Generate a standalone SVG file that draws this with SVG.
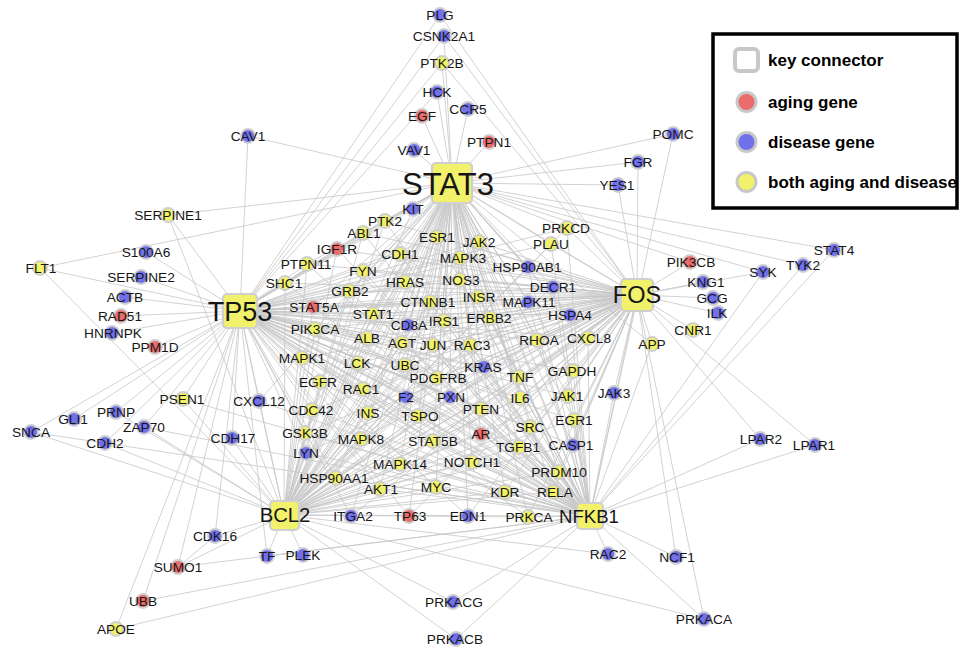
<svg xmlns="http://www.w3.org/2000/svg" width="962" height="648" viewBox="0 0 962 648">
<style>
.edges path{fill:none;stroke:#c6c6c6;stroke-width:0.8}
.node circle{stroke:#cfcfcf;stroke-width:1.8}
.y circle,.hub rect{fill:#f1f16b}
.r circle{fill:#ea6c6c}
.b circle{fill:#7171ec}
.hub rect{stroke:#cfcfcf;stroke-width:2.2}
text{font-family:"Liberation Sans",Arial,sans-serif;font-size:13.7px;fill:#161616;text-anchor:middle}
.leg text{font-weight:bold;font-size:17px;text-anchor:start;fill:#000}
.leg circle{stroke:#c8c8c8;stroke-width:3}
</style>
<rect width="962" height="648" fill="#fff"/>
<g class="edges" id="connectors">
<path d="M452 183L240 311"/><path d="M452 183L637 295"/><path d="M452 183L284 515"/><path d="M452 183L590 516"/>
<path d="M240 311L637 295"/><path d="M240 311L284 515"/><path d="M240 311L590 516"/><path d="M637 295L284 515"/><path d="M637 295L590 516"/><path d="M284 515L590 516"/>
<path d="M440 15L240 311"/><path d="M440 15L637 295"/>
<path d="M444 36L240 311"/><path d="M444 36L637 295"/><path d="M444 36L452 183"/>
<path d="M442 63L240 311"/><path d="M442 63L637 295"/><path d="M442 63L452 183"/>
<path d="M437 92L452 183"/><path d="M437 92L240 311"/>
<path d="M422 116L452 183"/><path d="M468 109L452 183"/><path d="M489 142L452 183"/><path d="M414 150L452 183"/>
<path d="M248 136L452 183"/><path d="M248 136L240 311"/>
<path d="M673 134L452 183"/><path d="M673 134L590 516"/>
<path d="M638 162L452 183"/><path d="M638 162L637 295"/>
<path d="M618 185L452 183"/><path d="M618 185L637 295"/>
<path d="M413 209L452 183"/><path d="M413 209L240 311"/><path d="M413 209L284 515"/>
<path d="M168 215L240 311"/><path d="M168 215L452 183"/><path d="M168 215L284 515"/>
<path d="M146 252L240 311"/>
<path d="M40 268L452 183"/><path d="M40 268L240 311"/><path d="M40 268L284 515"/>
<path d="M141 277L240 311"/><path d="M125 297L240 311"/><path d="M121 316L240 311"/><path d="M112 333L240 311"/><path d="M155 347L240 311"/>
<path d="M183 399L240 311"/><path d="M183 399L284 515"/><path d="M183 399L590 516"/>
<path d="M116 412L240 311"/><path d="M116 412L284 515"/>
<path d="M74 419L240 311"/>
<path d="M31 432L240 311"/><path d="M31 432L284 515"/><path d="M31 432L590 516"/>
<path d="M144 427L240 311"/><path d="M144 427L284 515"/><path d="M144 427L590 516"/>
<path d="M105 443L240 311"/><path d="M105 443L284 515"/>
<path d="M259 401L240 311"/><path d="M259 401L284 515"/><path d="M259 401L452 183"/><path d="M259 401L590 516"/>
<path d="M232 438L240 311"/><path d="M232 438L284 515"/>
<path d="M215 536L240 311"/><path d="M215 536L284 515"/><path d="M215 536L178 567"/>
<path d="M178 567L240 311"/><path d="M178 567L284 515"/><path d="M178 567L590 516"/>
<path d="M143 601L240 311"/><path d="M143 601L590 516"/>
<path d="M116 629L240 311"/><path d="M116 629L590 516"/>
<path d="M267 556L284 515"/><path d="M267 556L240 311"/><path d="M267 556L590 516"/>
<path d="M303 555L284 515"/>
<path d="M453 602L284 515"/><path d="M453 602L590 516"/>
<path d="M456 639L284 515"/><path d="M456 639L590 516"/>
<path d="M704 619L590 516"/><path d="M704 619L637 295"/><path d="M704 619L284 515"/>
<path d="M608 554L590 516"/><path d="M608 554L284 515"/>
<path d="M676 557L590 516"/><path d="M676 557L637 295"/>
<path d="M760 439L637 295"/><path d="M760 439L590 516"/>
<path d="M815 445L637 295"/><path d="M815 445L590 516"/>
<path d="M763 272L452 183"/><path d="M763 272L637 295"/><path d="M763 272L590 516"/>
<path d="M803 265L452 183"/><path d="M803 265L590 516"/>
<path d="M834 250L452 183"/><path d="M834 250L590 516"/>
<path d="M690 262L637 295"/><path d="M690 262L452 183"/>
<path d="M703 282L637 295"/><path d="M713 298L637 295"/><path d="M718 313L637 295"/><path d="M693 330L637 295"/>
<path d="M652 344L637 295"/><path d="M652 344L590 516"/><path d="M652 344L452 183"/>
<path d="M614 393L637 295"/><path d="M614 393L590 516"/>
<path id="e-PTK2" d="M452 183L385 221L240 311M637 295L385 221L284 515M385 221L590 516"/>
<path id="e-ABL1" d="M452 183L363 233L240 311M637 295L363 233L284 515M363 233L590 516"/>
<path id="e-ESR1" d="M452 183L437 237L240 311M637 295L437 237L284 515M437 237L590 516"/>
<path id="e-IGF1R" d="M452 183L337 249L240 311M637 295L337 249L284 515M337 249L590 516"/>
<path id="e-CDH1" d="M452 183L400 254L240 311M637 295L400 254L284 515M400 254L590 516"/>
<path id="e-PTPN11" d="M452 183L307 264L240 311M637 295L307 264L284 515M307 264L590 516"/>
<path id="e-FYN" d="M452 183L363 271L240 311M637 295L363 271L284 515M363 271L590 516"/>
<path id="e-SHC1" d="M452 183L285 283L240 311M637 295L285 283L284 515M285 283L590 516"/>
<path id="e-HRAS" d="M452 183L405 282L240 311M637 295L405 282L284 515M405 282L590 516"/>
<path id="e-GRB2" d="M452 183L349 291L240 311M637 295L349 291L284 515M349 291L590 516"/>
<path id="e-STAT5A" d="M452 183L313 307L240 311M637 295L313 307L284 515M313 307L590 516"/>
<path id="e-CTNNB1" d="M452 183L430 302L240 311M637 295L430 302L284 515M430 302L590 516"/>
<path id="e-STAT1" d="M452 183L373 314L240 311M637 295L373 314L284 515M373 314L590 516"/>
<path id="e-PIK3CA" d="M452 183L315 329L240 311M637 295L315 329L284 515M315 329L590 516"/>
<path id="e-CD8A" d="M452 183L408 325L240 311M637 295L408 325L284 515M408 325L590 516"/>
<path id="e-IRS1" d="M452 183L444 321L240 311M637 295L444 321L284 515M444 321L590 516"/>
<path id="e-ALB" d="M452 183L367 338L240 311M637 295L367 338L284 515M367 338L590 516"/>
<path id="e-AGT" d="M452 183L402 343L240 311M637 295L402 343L284 515M402 343L590 516"/>
<path id="e-JUN" d="M452 183L433 345L240 311M637 295L433 345L284 515M433 345L590 516"/>
<path id="e-MAPK1" d="M452 183L302 358L240 311M637 295L302 358L284 515M302 358L590 516"/>
<path id="e-LCK" d="M452 183L358 363L240 311M637 295L358 363L284 515M358 363L590 516"/>
<path id="e-UBC" d="M452 183L405 365L240 311M637 295L405 365L284 515M405 365L590 516"/>
<path id="e-PDGFRB" d="M452 183L437 378L240 311M637 295L437 378L284 515M437 378L590 516"/>
<path id="e-EGFR" d="M452 183L320 382L240 311M637 295L320 382L284 515M320 382L590 516"/>
<path id="e-RAC1" d="M452 183L363 389L240 311M637 295L363 389L284 515M363 389L590 516"/>
<path id="e-F2" d="M452 183L406 397L240 311M637 295L406 397L284 515M406 397L590 516"/>
<path id="e-PXN" d="M452 183L450 397L240 311M637 295L450 397L284 515M450 397L590 516"/>
<path id="e-CDC42" d="M452 183L312 410L240 311M637 295L312 410L284 515M312 410L590 516"/>
<path id="e-INS" d="M452 183L368 413L240 311M637 295L368 413L284 515M368 413L590 516"/>
<path id="e-TSPO" d="M452 183L418 416L240 311M637 295L418 416L284 515M418 416L590 516"/>
<path id="e-GSK3B" d="M452 183L305 433L240 311M637 295L305 433L284 515M305 433L590 516"/>
<path id="e-MAPK8" d="M452 183L361 439L240 311M637 295L361 439L284 515M361 439L590 516"/>
<path id="e-STAT5B" d="M452 183L433 441L240 311M637 295L433 441L284 515M433 441L590 516"/>
<path id="e-LYN" d="M452 183L306 453L240 311M637 295L306 453L284 515M306 453L590 516"/>
<path id="e-MAPK14" d="M452 183L400 464L240 311M637 295L400 464L284 515M400 464L590 516"/>
<path id="e-NOTCH1" d="M452 183L472 462L240 311M637 295L472 462L284 515M472 462L590 516"/>
<path id="e-HSP90AA1" d="M452 183L336 478L240 311M637 295L336 478L284 515M336 478L590 516"/>
<path id="e-AKT1" d="M452 183L380 489L240 311M637 295L380 489L284 515M380 489L590 516"/>
<path id="e-MYC" d="M452 183L436 487L240 311M637 295L436 487L284 515M436 487L590 516"/>
<path id="e-PRKCD" d="M452 183L567 228L240 311M637 295L567 228L284 515M567 228L590 516"/>
<path id="e-JAK2" d="M452 183L479 242L240 311M637 295L479 242L284 515M479 242L590 516"/>
<path id="e-PLAU" d="M452 183L551 244L240 311M637 295L551 244L284 515M551 244L590 516"/>
<path id="e-MAPK3" d="M452 183L460 258L240 311M637 295L460 258L284 515M460 258L590 516"/>
<path id="e-HSP90AB1" d="M452 183L528 267L240 311M637 295L528 267L284 515M528 267L590 516"/>
<path id="e-NOS3" d="M452 183L460 280L240 311M637 295L460 280L284 515M460 280L590 516"/>
<path id="e-DECR1" d="M452 183L553 287L240 311M637 295L553 287L284 515M553 287L590 516"/>
<path id="e-INSR" d="M452 183L478 297L240 311M637 295L478 297L284 515M478 297L590 516"/>
<path id="e-MAPK11" d="M452 183L528 302L240 311M637 295L528 302L284 515M528 302L590 516"/>
<path id="e-ERBB2" d="M452 183L490 318L240 311M637 295L490 318L284 515M490 318L590 516"/>
<path id="e-HSPA4" d="M452 183L570 315L240 311M637 295L570 315L284 515M570 315L590 516"/>
<path id="e-RAC3" d="M452 183L470 345L240 311M637 295L470 345L284 515M470 345L590 516"/>
<path id="e-RHOA" d="M452 183L537 340L240 311M637 295L537 340L284 515M537 340L590 516"/>
<path id="e-CXCL8" d="M452 183L588 338L240 311M637 295L588 338L284 515M588 338L590 516"/>
<path id="e-KRAS" d="M452 183L484 367L240 311M637 295L484 367L284 515M484 367L590 516"/>
<path id="e-TNF" d="M452 183L519 377L240 311M637 295L519 377L284 515M519 377L590 516"/>
<path id="e-GAPDH" d="M452 183L573 371L240 311M637 295L573 371L284 515M573 371L590 516"/>
<path id="e-IL6" d="M452 183L520 398L240 311M637 295L520 398L284 515M520 398L590 516"/>
<path id="e-JAK1" d="M452 183L568 396L240 311M637 295L568 396L284 515M568 396L590 516"/>
<path id="e-PTEN" d="M452 183L481 409L240 311M637 295L481 409L284 515M481 409L590 516"/>
<path id="e-EGR1" d="M452 183L574 420L240 311M637 295L574 420L284 515M574 420L590 516"/>
<path id="e-SRC" d="M452 183L530 427L240 311M637 295L530 427L284 515M530 427L590 516"/>
<path id="e-AR" d="M452 183L481 434L240 311M637 295L481 434L284 515M481 434L590 516"/>
<path id="e-TGFB1" d="M452 183L519 447L240 311M637 295L519 447L284 515M519 447L590 516"/>
<path id="e-CASP1" d="M452 183L573 445L240 311M637 295L573 445L284 515M573 445L590 516"/>
<path id="e-PRDM10" d="M452 183L559 472L240 311M637 295L559 472L284 515M559 472L590 516"/>
<path id="e-KDR" d="M452 183L505 492L240 311M637 295L505 492L284 515M505 492L590 516"/>
<path id="e-RELA" d="M452 183L553 492L240 311M637 295L553 492L284 515M553 492L590 516"/>
<path id="e-PRKCA" d="M452 183L528 517L240 311M637 295L528 517L284 515M528 517L590 516"/>
<path id="e-ITGA2" d="M452 183L351 516L240 311M637 295L351 516"/>
<path id="e-TP63" d="M452 183L409 516L240 311M637 295L409 516"/>
<path id="e-EDN1" d="M452 183L468 516L240 311M637 295L468 516"/>
</g>
<g id="nodes">
<g id="PLG" class="node b"><circle cx="440" cy="15" r="7"/><text x="440" y="20">PLG</text></g>
<g id="CSNK2A1" class="node b"><circle cx="444" cy="36" r="7"/><text x="444" y="41">CSNK2A1</text></g>
<g id="PTK2B" class="node y"><circle cx="442" cy="63" r="7"/><text x="442" y="68">PTK2B</text></g>
<g id="HCK" class="node b"><circle cx="437" cy="92" r="7"/><text x="437" y="97">HCK</text></g>
<g id="CCR5" class="node b"><circle cx="468" cy="109" r="7"/><text x="468" y="114">CCR5</text></g>
<g id="EGF" class="node r"><circle cx="422" cy="116" r="7"/><text x="422" y="121">EGF</text></g>
<g id="PTPN1" class="node r"><circle cx="489" cy="142" r="7"/><text x="489" y="147">PTPN1</text></g>
<g id="VAV1" class="node b"><circle cx="414" cy="150" r="7"/><text x="414" y="155">VAV1</text></g>
<g id="CAV1" class="node b"><circle cx="248" cy="136" r="7"/><text x="248" y="141">CAV1</text></g>
<g id="POMC" class="node b"><circle cx="673" cy="134" r="7"/><text x="673" y="139">POMC</text></g>
<g id="FGR" class="node b"><circle cx="638" cy="162" r="7"/><text x="638" y="167">FGR</text></g>
<g id="YES1" class="node b"><circle cx="618" cy="185" r="7"/><text x="617" y="190">YES1</text></g>
<g id="KIT" class="node b"><circle cx="413" cy="209" r="7"/><text x="413" y="214">KIT</text></g>
<g id="SERPINE1" class="node y"><circle cx="168" cy="215" r="7"/><text x="168" y="220">SERPINE1</text></g>
<g id="S100A6" class="node b"><circle cx="146" cy="252" r="7"/><text x="146" y="257">S100A6</text></g>
<g id="FLT1" class="node y"><circle cx="40" cy="268" r="7"/><text x="41" y="273">FLT1</text></g>
<g id="SERPINE2" class="node b"><circle cx="141" cy="277" r="7"/><text x="141" y="282">SERPINE2</text></g>
<g id="ACTB" class="node b"><circle cx="125" cy="297" r="7"/><text x="125" y="302">ACTB</text></g>
<g id="RAD51" class="node r"><circle cx="121" cy="316" r="7"/><text x="120" y="321">RAD51</text></g>
<g id="HNRNPK" class="node b"><circle cx="112" cy="333" r="7"/><text x="113" y="338">HNRNPK</text></g>
<g id="PPM1D" class="node r"><circle cx="155" cy="347" r="7"/><text x="155" y="352">PPM1D</text></g>
<g id="PSEN1" class="node y"><circle cx="183" cy="399" r="7"/><text x="182" y="404">PSEN1</text></g>
<g id="PRNP" class="node b"><circle cx="116" cy="412" r="7"/><text x="116" y="417">PRNP</text></g>
<g id="GLI1" class="node b"><circle cx="74" cy="419" r="7"/><text x="73" y="424">GLI1</text></g>
<g id="SNCA" class="node b"><circle cx="31" cy="432" r="7"/><text x="31" y="437">SNCA</text></g>
<g id="ZAP70" class="node b"><circle cx="144" cy="427" r="7"/><text x="144" y="432">ZAP70</text></g>
<g id="CDH2" class="node b"><circle cx="105" cy="443" r="7"/><text x="105" y="448">CDH2</text></g>
<g id="CXCL12" class="node b"><circle cx="259" cy="401" r="7"/><text x="259" y="406">CXCL12</text></g>
<g id="CDH17" class="node b"><circle cx="232" cy="438" r="7"/><text x="233" y="443">CDH17</text></g>
<g id="CDK16" class="node b"><circle cx="215" cy="536" r="7"/><text x="215" y="541">CDK16</text></g>
<g id="SUMO1" class="node r"><circle cx="178" cy="567" r="7"/><text x="178" y="572">SUMO1</text></g>
<g id="UBB" class="node r"><circle cx="143" cy="601" r="7"/><text x="143" y="606">UBB</text></g>
<g id="APOE" class="node y"><circle cx="116" cy="629" r="7"/><text x="116" y="634">APOE</text></g>
<g id="TF" class="node b"><circle cx="267" cy="556" r="7"/><text x="267" y="561">TF</text></g>
<g id="PLEK" class="node b"><circle cx="303" cy="555" r="7"/><text x="303" y="560">PLEK</text></g>
<g id="PTK2" class="node y"><circle cx="385" cy="221" r="7"/><text x="385" y="226">PTK2</text></g>
<g id="ABL1" class="node y"><circle cx="363" cy="233" r="7"/><text x="364" y="238">ABL1</text></g>
<g id="ESR1" class="node y"><circle cx="437" cy="237" r="7"/><text x="437" y="242">ESR1</text></g>
<g id="IGF1R" class="node r"><circle cx="337" cy="249" r="7"/><text x="337" y="254">IGF1R</text></g>
<g id="CDH1" class="node y"><circle cx="400" cy="254" r="7"/><text x="400" y="259">CDH1</text></g>
<g id="PTPN11" class="node y"><circle cx="307" cy="264" r="7"/><text x="306" y="269">PTPN11</text></g>
<g id="FYN" class="node y"><circle cx="363" cy="271" r="7"/><text x="363" y="276">FYN</text></g>
<g id="SHC1" class="node y"><circle cx="285" cy="283" r="7"/><text x="284" y="288">SHC1</text></g>
<g id="HRAS" class="node y"><circle cx="405" cy="282" r="7"/><text x="405" y="287">HRAS</text></g>
<g id="GRB2" class="node y"><circle cx="349" cy="291" r="7"/><text x="350" y="296">GRB2</text></g>
<g id="STAT5A" class="node r"><circle cx="313" cy="307" r="7"/><text x="314" y="312">STAT5A</text></g>
<g id="CTNNB1" class="node y"><circle cx="430" cy="302" r="7"/><text x="428" y="307">CTNNB1</text></g>
<g id="STAT1" class="node y"><circle cx="373" cy="314" r="7"/><text x="373" y="319">STAT1</text></g>
<g id="PIK3CA" class="node y"><circle cx="315" cy="329" r="7"/><text x="315" y="334">PIK3CA</text></g>
<g id="CD8A" class="node b"><circle cx="408" cy="325" r="7"/><text x="409" y="330">CD8A</text></g>
<g id="IRS1" class="node y"><circle cx="444" cy="321" r="7"/><text x="444" y="326">IRS1</text></g>
<g id="ALB" class="node y"><circle cx="367" cy="338" r="7"/><text x="367" y="343">ALB</text></g>
<g id="AGT" class="node y"><circle cx="402" cy="343" r="7"/><text x="402" y="348">AGT</text></g>
<g id="JUN" class="node y"><circle cx="433" cy="345" r="7"/><text x="433" y="350">JUN</text></g>
<g id="MAPK1" class="node y"><circle cx="302" cy="358" r="7"/><text x="302" y="363">MAPK1</text></g>
<g id="LCK" class="node y"><circle cx="358" cy="363" r="7"/><text x="357" y="368">LCK</text></g>
<g id="UBC" class="node y"><circle cx="405" cy="365" r="7"/><text x="405" y="370">UBC</text></g>
<g id="PDGFRB" class="node y"><circle cx="437" cy="378" r="7"/><text x="438" y="383">PDGFRB</text></g>
<g id="EGFR" class="node y"><circle cx="320" cy="382" r="7"/><text x="318" y="387">EGFR</text></g>
<g id="RAC1" class="node y"><circle cx="363" cy="389" r="7"/><text x="361" y="394">RAC1</text></g>
<g id="F2" class="node b"><circle cx="406" cy="397" r="7"/><text x="406" y="402">F2</text></g>
<g id="PXN" class="node b"><circle cx="450" cy="397" r="7"/><text x="451" y="402">PXN</text></g>
<g id="CDC42" class="node y"><circle cx="312" cy="410" r="7"/><text x="311" y="415">CDC42</text></g>
<g id="INS" class="node y"><circle cx="368" cy="413" r="7"/><text x="368" y="418">INS</text></g>
<g id="TSPO" class="node y"><circle cx="418" cy="416" r="7"/><text x="420" y="421">TSPO</text></g>
<g id="GSK3B" class="node y"><circle cx="305" cy="433" r="7"/><text x="305" y="438">GSK3B</text></g>
<g id="MAPK8" class="node y"><circle cx="361" cy="439" r="7"/><text x="361" y="444">MAPK8</text></g>
<g id="STAT5B" class="node y"><circle cx="433" cy="441" r="7"/><text x="433" y="446">STAT5B</text></g>
<g id="LYN" class="node b"><circle cx="306" cy="453" r="7"/><text x="306" y="458">LYN</text></g>
<g id="MAPK14" class="node y"><circle cx="400" cy="464" r="7"/><text x="400" y="469">MAPK14</text></g>
<g id="NOTCH1" class="node y"><circle cx="472" cy="462" r="7"/><text x="472" y="467">NOTCH1</text></g>
<g id="HSP90AA1" class="node y"><circle cx="336" cy="478" r="7"/><text x="334" y="483">HSP90AA1</text></g>
<g id="AKT1" class="node y"><circle cx="380" cy="489" r="7"/><text x="381" y="494">AKT1</text></g>
<g id="MYC" class="node y"><circle cx="436" cy="487" r="7"/><text x="436" y="492">MYC</text></g>
<g id="ITGA2" class="node b"><circle cx="351" cy="516" r="7"/><text x="353" y="521">ITGA2</text></g>
<g id="TP63" class="node r"><circle cx="409" cy="516" r="7"/><text x="410" y="521">TP63</text></g>
<g id="EDN1" class="node b"><circle cx="468" cy="516" r="7"/><text x="468" y="521">EDN1</text></g>
<g id="PRKACG" class="node b"><circle cx="453" cy="602" r="7"/><text x="454" y="607">PRKACG</text></g>
<g id="PRKACB" class="node b"><circle cx="456" cy="639" r="7"/><text x="455" y="644">PRKACB</text></g>
<g id="PRKCD" class="node y"><circle cx="567" cy="228" r="7"/><text x="566" y="233">PRKCD</text></g>
<g id="JAK2" class="node y"><circle cx="479" cy="242" r="7"/><text x="479" y="247">JAK2</text></g>
<g id="PLAU" class="node y"><circle cx="551" cy="244" r="7"/><text x="551" y="249">PLAU</text></g>
<g id="MAPK3" class="node y"><circle cx="460" cy="258" r="7"/><text x="463" y="263">MAPK3</text></g>
<g id="HSP90AB1" class="node b"><circle cx="528" cy="267" r="7"/><text x="527" y="272">HSP90AB1</text></g>
<g id="NOS3" class="node y"><circle cx="460" cy="280" r="7"/><text x="461" y="285">NOS3</text></g>
<g id="DECR1" class="node b"><circle cx="553" cy="287" r="7"/><text x="553" y="292">DECR1</text></g>
<g id="INSR" class="node y"><circle cx="478" cy="297" r="7"/><text x="479" y="302">INSR</text></g>
<g id="MAPK11" class="node b"><circle cx="528" cy="302" r="7"/><text x="529" y="307">MAPK11</text></g>
<g id="ERBB2" class="node y"><circle cx="490" cy="318" r="7"/><text x="489" y="323">ERBB2</text></g>
<g id="HSPA4" class="node b"><circle cx="570" cy="315" r="7"/><text x="570" y="320">HSPA4</text></g>
<g id="RAC3" class="node y"><circle cx="470" cy="345" r="7"/><text x="472" y="350">RAC3</text></g>
<g id="RHOA" class="node y"><circle cx="537" cy="340" r="7"/><text x="539" y="345">RHOA</text></g>
<g id="CXCL8" class="node y"><circle cx="588" cy="338" r="7"/><text x="589" y="343">CXCL8</text></g>
<g id="APP" class="node y"><circle cx="652" cy="344" r="7"/><text x="652" y="349">APP</text></g>
<g id="KRAS" class="node b"><circle cx="484" cy="367" r="7"/><text x="483" y="372">KRAS</text></g>
<g id="TNF" class="node y"><circle cx="519" cy="377" r="7"/><text x="520" y="382">TNF</text></g>
<g id="GAPDH" class="node y"><circle cx="573" cy="371" r="7"/><text x="572" y="376">GAPDH</text></g>
<g id="IL6" class="node y"><circle cx="520" cy="398" r="7"/><text x="520" y="403">IL6</text></g>
<g id="JAK1" class="node y"><circle cx="568" cy="396" r="7"/><text x="567" y="401">JAK1</text></g>
<g id="JAK3" class="node b"><circle cx="614" cy="393" r="7"/><text x="614" y="398">JAK3</text></g>
<g id="PTEN" class="node y"><circle cx="481" cy="409" r="7"/><text x="481" y="414">PTEN</text></g>
<g id="EGR1" class="node y"><circle cx="574" cy="420" r="7"/><text x="574" y="425">EGR1</text></g>
<g id="SRC" class="node y"><circle cx="530" cy="427" r="7"/><text x="530" y="432">SRC</text></g>
<g id="AR" class="node r"><circle cx="481" cy="434" r="7"/><text x="481" y="439">AR</text></g>
<g id="TGFB1" class="node y"><circle cx="519" cy="447" r="7"/><text x="518" y="452">TGFB1</text></g>
<g id="CASP1" class="node b"><circle cx="573" cy="445" r="7"/><text x="571" y="450">CASP1</text></g>
<g id="PRDM10" class="node y"><circle cx="559" cy="472" r="7"/><text x="559" y="477">PRDM10</text></g>
<g id="KDR" class="node y"><circle cx="505" cy="492" r="7"/><text x="505" y="497">KDR</text></g>
<g id="RELA" class="node y"><circle cx="553" cy="492" r="7"/><text x="555" y="497">RELA</text></g>
<g id="PRKCA" class="node y"><circle cx="528" cy="517" r="7"/><text x="529" y="522">PRKCA</text></g>
<g id="RAC2" class="node b"><circle cx="608" cy="554" r="7"/><text x="608" y="559">RAC2</text></g>
<g id="NCF1" class="node b"><circle cx="676" cy="557" r="7"/><text x="677" y="562">NCF1</text></g>
<g id="PRKACA" class="node b"><circle cx="704" cy="619" r="7"/><text x="704" y="624">PRKACA</text></g>
<g id="PIK3CB" class="node r"><circle cx="690" cy="262" r="7"/><text x="691" y="267">PIK3CB</text></g>
<g id="KNG1" class="node b"><circle cx="703" cy="282" r="7"/><text x="706" y="287">KNG1</text></g>
<g id="GCG" class="node b"><circle cx="713" cy="298" r="7"/><text x="712" y="303">GCG</text></g>
<g id="ILK" class="node b"><circle cx="718" cy="313" r="7"/><text x="717" y="318">ILK</text></g>
<g id="CNR1" class="node y"><circle cx="693" cy="330" r="7"/><text x="693" y="335">CNR1</text></g>
<g id="SYK" class="node b"><circle cx="763" cy="272" r="7"/><text x="763" y="277">SYK</text></g>
<g id="TYK2" class="node b"><circle cx="803" cy="265" r="7"/><text x="803" y="270">TYK2</text></g>
<g id="STAT4" class="node b"><circle cx="834" cy="250" r="7"/><text x="834" y="255">STAT4</text></g>
<g id="LPAR2" class="node b"><circle cx="760" cy="439" r="7"/><text x="761" y="444">LPAR2</text></g>
<g id="LPAR1" class="node b"><circle cx="815" cy="445" r="7"/><text x="814" y="450">LPAR1</text></g>
<g id="STAT3" class="hub"><rect x="432" y="163" width="40" height="40" rx="4"/><text x="448" y="195" style="font-size:31px">STAT3</text></g>
<g id="TP53" class="hub"><rect x="223" y="294" width="34" height="34" rx="4"/><text x="240" y="321" style="font-size:27px">TP53</text></g>
<g id="FOS" class="hub"><rect x="621" y="279" width="32" height="32" rx="4"/><text x="637" y="303" style="font-size:23.5px">FOS</text></g>
<g id="BCL2" class="hub"><rect x="270" y="501" width="29" height="29" rx="4"/><text x="285" y="522" style="font-size:20.3px">BCL2</text></g>
<g id="NFKB1" class="hub"><rect x="577" y="503" width="26" height="26" rx="4"/><text x="589" y="523" style="font-size:18.6px">NFKB1</text></g>
</g>
<g id="legend" class="leg">
<rect x="713" y="34" width="244" height="174" fill="#fff" stroke="#000" stroke-width="3.5"/>
<rect x="735" y="49" width="23" height="22" rx="4" fill="#fff" stroke="#c8c8c8" stroke-width="4"/>
<text x="768" y="66">key connector</text>
<circle cx="746.5" cy="102" r="9.5" fill="#ea6c6c"/>
<text x="768" y="108">aging gene</text>
<circle cx="746.5" cy="142" r="9.5" fill="#7171ec"/>
<text x="768" y="148">disease gene</text>
<circle cx="746.5" cy="182" r="9.5" fill="#f1f16b"/>
<text x="768" y="188">both aging and disease</text>
</g>
</svg>
